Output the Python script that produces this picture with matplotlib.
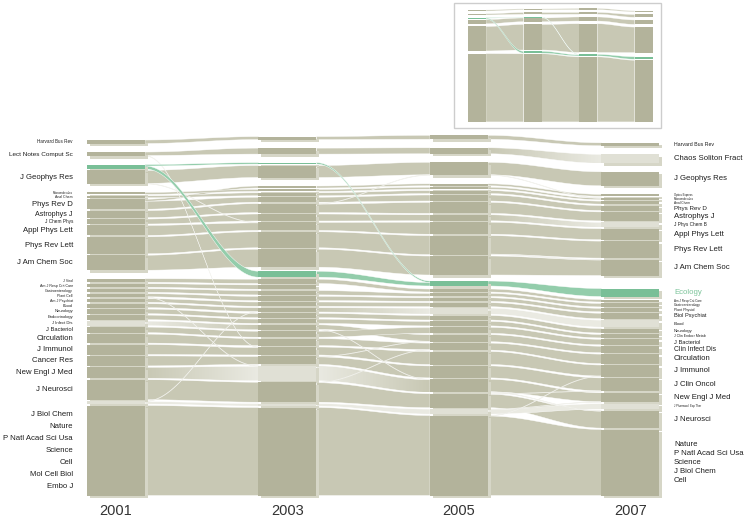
import numpy as np
import matplotlib
matplotlib.use('Agg')
import matplotlib.pyplot as plt
from matplotlib.patches import Rectangle, Polygon
from matplotlib.colors import to_rgb

plt.rcParams['font.family'] = ['Liberation Sans', 'DejaVu Sans']

years = [2001, 2003, 2005, 2007]

# modules of each year, top to bottom: (key, label, size, cluster, style)
modules_2001 = [
    ('hbr', 'Harvard Bus Rev', 3.5, 'hbr', 'base'),
    ('lncs', 'Lect Notes Comput Sc', 4, 'lncs', 'base'),
    ('eco', '', 4.5, 'jgr', 'green'),
    ('jgr', 'J Geophys Res', 13.5, 'jgr', 'base'),
    ('macro', 'Macromolecules', 2, 'phys', 'base'),
    ('anal', 'Anal Chem', 2, 'phys', 'base'),
    ('prd', 'Phys Rev D', 10, 'phys', 'base'),
    ('apj', 'Astrophys J', 7, 'phys', 'base'),
    ('jcp', 'J Chem Phys', 5, 'phys', 'base'),
    ('apl', 'Appl Phys Lett', 10, 'phys', 'base'),
    ('prl', 'Phys Rev Lett', 17, 'phys', 'base'),
    ('jacs', 'J Am Chem Soc', 15, 'phys', 'base'),
    ('jvirol', 'J Virol', 3.6, 'bio', 'base'),
    ('ajrccm', 'Am J Resp Crit Care', 3.6, 'bio', 'base'),
    ('gastro', 'Gastroenterology', 3.6, 'bio', 'base'),
    ('plantcell', 'Plant Cell', 3.6, 'bio', 'base'),
    ('ajpsy', 'Am J Psychiat', 3.6, 'bio', 'base'),
    ('blood', 'Blood', 4, 'bio', 'base'),
    ('neuro', 'Neurology', 4.6, 'bio', 'base'),
    ('endo', 'Endocrinology', 4.6, 'bio', 'base'),
    ('jid', 'J Infect Dis', 4.6, 'bio', 'light'),
    ('jbact', 'J Bacteriol', 5.6, 'bio', 'base'),
    ('circ', 'Circulation', 9, 'bio', 'base'),
    ('jimm', 'J Immunol', 10, 'bio', 'base'),
    ('canres', 'Cancer Res', 10, 'bio', 'base'),
    ('nejm', 'New Engl J Med', 11, 'bio', 'base'),
    ('jneuro', 'J Neurosci', 20, 'bio', 'base'),
    ('misc', '', 3, 'bio', 'light'),
    ('molbio', 'J Biol Chem\nNature\nP Natl Acad Sci Usa\nScience\nCell\nMol Cell Biol\nEmbo J', 90, 'bio', 'base'),
]

modules_2003 = [
    ('hbr', '', 3, 'hbr', 'base'),
    ('lncs', '', 6, 'lncs', 'base'),
    ('ecojgr', '', 1.5, 'jgr', 'green'),
    ('jgr', '', 12, 'jgr', 'base'),
    ('optex', '', 2, 'phys', 'base'),
    ('macro', '', 2, 'phys', 'base'),
    ('anal', '', 3, 'phys', 'base'),
    ('prd', '', 5, 'phys', 'base'),
    ('apj', '', 9, 'phys', 'base'),
    ('jcp', '', 7, 'phys', 'base'),
    ('apl', '', 8, 'phys', 'base'),
    ('prl', '', 16, 'phys', 'base'),
    ('jacs', '', 18, 'phys', 'base'),
    ('eco', '', 6, 'eco', 'green'),
    ('jvirol', '', 4.3, 'bio', 'base'),
    ('ajrccm', '', 4.3, 'bio', 'base'),
    ('gastro', '', 4.3, 'bio', 'base'),
    ('plantcell', '', 4.3, 'bio', 'base'),
    ('ajpsy', '', 4.3, 'bio', 'base'),
    ('blood', '', 4.3, 'bio', 'base'),
    ('neuro', '', 4.3, 'bio', 'base'),
    ('endo', '', 4.3, 'bio', 'base'),
    ('jid', '', 5, 'bio', 'base'),
    ('jbact', '', 6, 'bio', 'base'),
    ('circ', '', 7, 'bio', 'base'),
    ('jimm', '', 8, 'bio', 'base'),
    ('canres', '', 8, 'bio', 'base'),
    ('nejm', '', 15, 'bio', 'light'),
    ('jneuro', '', 20, 'bio', 'base'),
    ('misc', '', 2.5, 'bio', 'light'),
    ('molbio', '', 88, 'bio', 'base'),
]

modules_2005 = [
    ('hbr', '', 4, 'hbr', 'base'),
    ('lncs', '', 6, 'lncs', 'base'),
    ('jgr', '', 13, 'jgr', 'base'),
    ('optex', '', 2, 'phys', 'base'),
    ('macro', '', 2, 'phys', 'base'),
    ('anal', '', 3, 'phys', 'base'),
    ('prd', '', 6, 'phys', 'base'),
    ('apj', '', 11, 'phys', 'base'),
    ('jcp', '', 6, 'phys', 'base'),
    ('apl', '', 12, 'phys', 'base'),
    ('prl', '', 19, 'phys', 'base'),
    ('jacs', '', 19, 'phys', 'base'),
    ('eco', '', 5, 'eco', 'green'),
    ('ajrccm', '', 3, 'bio', 'base'),
    ('gastro', '', 3, 'bio', 'base'),
    ('plantcell', '', 3.5, 'bio', 'base'),
    ('ajpsy', '', 4, 'bio', 'base'),
    ('blood', '', 6, 'bio', 'light'),
    ('neuro', '', 4.5, 'bio', 'base'),
    ('endo', '', 4.5, 'bio', 'base'),
    ('jbact', '', 6, 'bio', 'base'),
    ('jid', '', 7, 'bio', 'base'),
    ('circ', '', 7, 'bio', 'base'),
    ('jimm', '', 13, 'bio', 'base'),
    ('canres', '', 12, 'bio', 'base'),
    ('nejm', '', 13, 'bio', 'base'),
    ('jneuro', '', 14, 'bio', 'base'),
    ('misc', '', 5, 'bio', 'light'),
    ('molbio', '', 80, 'bio', 'base'),
]

modules_2007 = [
    ('hbr', 'Harvard Bus Rev', 3, 'hbr', 'base'),
    ('lncs', 'Chaos Soliton Fract', 9, 'lncs', 'light'),
    ('jgr', 'J Geophys Res', 14, 'jgr', 'base'),
    ('optex', 'Optics Express', 2, 'phys', 'base'),
    ('macro', 'Macromolecules', 2, 'phys', 'base'),
    ('anal', 'Anal Chem', 3, 'phys', 'base'),
    ('prd', 'Phys Rev D', 5, 'phys', 'base'),
    ('apj', 'Astrophys J', 9, 'phys', 'base'),
    ('jcp', 'J Phys Chem B', 5, 'phys', 'light'),
    ('apl', 'Appl Phys Lett', 11, 'phys', 'base'),
    ('prl', 'Phys Rev Lett', 17, 'phys', 'base'),
    ('jacs', 'J Am Chem Soc', 16, 'phys', 'base'),
    ('eco', 'Ecology', 8, 'eco', 'green'),
    ('ajrccm', 'Am J Resp Crit Care', 2.5, 'bio', 'base'),
    ('gastro', 'Gastroenterology', 3.5, 'bio', 'base'),
    ('plantcell', 'Plant Physiol', 3.5, 'bio', 'base'),
    ('ajpsy', 'Biol Psychiat', 5.5, 'bio', 'base'),
    ('blood', 'Blood', 7, 'bio', 'light'),
    ('neuro', 'Neurology', 4.5, 'bio', 'base'),
    ('endo', 'J Clin Endocr Metab', 3.5, 'bio', 'base'),
    ('jbact', 'J Bacteriol', 5.5, 'bio', 'base'),
    ('jid', 'Clin Infect Dis', 6.5, 'bio', 'base'),
    ('circ', 'Circulation', 9.5, 'bio', 'base'),
    ('jimm', 'J Immunol', 11.5, 'bio', 'base'),
    ('canres', 'J Clin Oncol', 13.5, 'bio', 'base'),
    ('nejm', 'New Engl J Med', 9.5, 'bio', 'base'),
    ('misc', 'J Pharmacol Exp Ther', 5.5, 'bio', 'light'),
    ('jneuro', 'J Neurosci', 17.5, 'bio', 'base'),
    ('molbio', 'Nature\nP Natl Acad Sci Usa\nScience\nJ Biol Chem\nCell', 66, 'bio', 'base'),
]

modules = [modules_2001, modules_2003, modules_2005, modules_2007]

# flows that leave their module: (from, to, value, kind); the rest stays put
moves_01_03 = [
    ('eco', 'ecojgr', 1.5, 'main'),
    ('prd', 'optex', 2, 'main'),
    ('lncs', 'jimm', 0.5, 'cross'),
    ('jgr', 'apl', 0.5, 'cross'),
    ('plantcell', 'nejm', 0.5, 'cross'),
    ('misc', 'blood', 0.5, 'cross'),
]
moves_03_05 = [
    ('ecojgr', 'eco', 1.5, 'main'),
    ('jvirol', 'ajrccm', 4.3, 'main'),
    ('apj', 'jgr', 0.5, 'cross'),
    ('jid', 'nejm', 0.5, 'cross'),
    ('canres', 'jid', 0.5, 'cross'),
    ('jneuro', 'circ', 0.5, 'cross'),
]
moves_05_07 = [
    ('jgr', 'macro', 0.5, 'cross'),
    ('prl', 'jacs', 0.5, 'cross'),
    ('jneuro', 'canres', 0.5, 'cross'),
    ('misc', 'nejm', 0.5, 'cross'),
    ('nejm', 'jneuro', 0.5, 'cross'),
    ('molbio', 'jimm', 0.5, 'cross'),
]
moves = [moves_01_03, moves_03_05, moves_05_07]

# layout (pixels of the 748x521 canvas)
BOTTOM_Y = 495.5
GAP_IN, GAP_OUT = 1.4, 8.5
ECO_GAP_ABOVE = [0, 4, 6, 13]
ECO_GAP_BELOW = [0, 2, 3, 3]
COL_W = 58
SHADOW_DX, SHADOW_DY = 3, 2.5

BLOCK_COL = {'base': '#b3b39b', 'light': '#e0e0d5', 'green': '#79bf97'}
STREAM_COL = {'base': '#c8c8b4', 'light': '#eaeae2', 'green': '#93cdab'}
SHADOW_COL = '#d6d6c7'
CROSS_COL = '#e0e0d6'
TEXT_COL = '#1e1e1e'

LABEL_FS_OVERRIDE = {
    ('left', 'Harvard Bus Rev'): 3.3,
    ('left', 'Lect Notes Comput Sc'): 4.6,
    ('left', 'Anal Chem'): 2.5,
    ('right', 'Harvard Bus Rev'): 3.8,
    ('right', 'Phys Rev D'): 4.5,
    ('right', 'Blood'): 3.0,
    ('right', 'J Pharmacol Exp Ther'): 2.0,
}


def col_left(year):
    return 87 + (year - years[0]) * 85.75


def inset_left(year):
    return 468 + (year - years[0]) * 27.8


def stack(mods, i):
    # stack modules from the bottom up
    pos = {}
    y = BOTTOM_Y
    for j in range(len(mods) - 1, -1, -1):
        key, _, size, cluster, _ = mods[j]
        pos[key] = (y - size, y)
        y -= size
        if j > 0:
            above = mods[j - 1][3]
            if above == cluster:
                gap = GAP_IN
            elif cluster == 'eco':
                gap = ECO_GAP_ABOVE[i]
            elif above == 'eco':
                gap = ECO_GAP_BELOW[i]
            else:
                gap = GAP_OUT
            y -= gap
    return pos


def build_flows(ma, mb, extra):
    size_a = {m[0]: m[2] for m in ma}
    size_b = {m[0]: m[2] for m in mb}
    out_v, in_v = {}, {}
    flows = []
    for s, d, v, kind in extra:
        flows.append(dict(src=s, dst=d, wl=v, wr=v, kind=kind))
        out_v[s] = out_v.get(s, 0) + v
        in_v[d] = in_v.get(d, 0) + v
    for k in size_a:
        if k in size_b:
            wl = size_a[k] - out_v.get(k, 0)
            wr = size_b[k] - in_v.get(k, 0)
            if wl > 0 and wr > 0:
                flows.append(dict(src=k, dst=k, wl=wl, wr=wr, kind='main'))
    return flows


def allocate(flows, pos_a, pos_b):
    mid = lambda p: (p[0] + p[1]) / 2
    for end, other, w, ps, po in (('src', 'dst', 'wl', pos_a, pos_b),
                                  ('dst', 'src', 'wr', pos_b, pos_a)):
        for k in {f[end] for f in flows}:
            grp = sorted([f for f in flows if f[end] == k], key=lambda f: mid(po[f[other]]))
            y0, y1 = ps[k]
            sc = (y1 - y0) / sum(f[w] for f in grp)
            for f in grp:
                f[end + '_y'] = (y0, y0 + f[w] * sc)
                y0 += f[w] * sc


def band(xa, xb, a, b, n=48):
    t = np.linspace(0, 1, n)
    s = (1 - np.cos(np.pi * t)) / 2
    x = xa + (xb - xa) * t
    top = a[0] + (b[0] - a[0]) * s
    bot = a[1] + (b[1] - a[1]) * s
    return np.vstack([np.column_stack([x, top]), np.column_stack([x[::-1], bot[::-1]])])


def draw_band(ax, verts, c0, c1, z, edge, lw):
    if c0 == c1:
        ax.add_patch(Polygon(verts, closed=True, fc=c0, ec=edge, lw=lw, zorder=z))
        return
    poly = Polygon(verts, closed=True, fc='none', ec=edge, lw=lw, zorder=z + 0.05)
    ax.add_patch(poly)
    t = np.linspace(0, 1, 64)[:, None]
    cols = (1 - t) * np.array(to_rgb(c0)) + t * np.array(to_rgb(c1))
    im = ax.imshow(cols[None], extent=(verts[:, 0].min(), verts[:, 0].max(),
                                       verts[:, 1].max(), verts[:, 1].min()),
                   aspect='auto', interpolation='bilinear', zorder=z)
    im.set_clip_path(poly)


def draw_streams(ax, flows, xa, xb, style_a, style_b, lw):
    def zkey(f):
        if f['kind'] == 'cross':
            return 2
        if style_a[f['src']] == 'green' or style_b[f['dst']] == 'green':
            return 2.5
        return 1 if (style_a[f['src']] == 'base' and style_b[f['dst']] == 'base') else 1.5
    for f in sorted(flows, key=zkey):
        verts = band(xa, xb, f['src_y'], f['dst_y'])
        z = zkey(f)
        if f['kind'] == 'cross':
            draw_band(ax, verts, CROSS_COL, CROSS_COL, z, '#f5f5f1', 0.25)
        else:
            draw_band(ax, verts, STREAM_COL[style_a[f['src']]], STREAM_COL[style_b[f['dst']]],
                      z, 'white', lw)


def label_fs(size, side, text):
    if (side, text) in LABEL_FS_OVERRIDE:
        return LABEL_FS_OVERRIDE[(side, text)]
    return float(np.interp(size, [2, 4.6, 6, 8], [2.0, 3.0, 4.6, 5.6]))


fig = plt.figure(figsize=(7.48, 5.21), dpi=100)
ax = fig.add_axes([0, 0, 1, 1])

# main diagram
positions = [stack(m, i) for i, m in enumerate(modules)]
styles = [{m[0]: m[4] for m in mods} for mods in modules]
all_flows = []
for i in range(len(years) - 1):
    flows = build_flows(modules[i], modules[i + 1], moves[i])
    allocate(flows, positions[i], positions[i + 1])
    all_flows.append(flows)
    draw_streams(ax, flows, col_left(years[i]) + COL_W, col_left(years[i + 1]),
                 styles[i], styles[i + 1], 0.3)

for i, year in enumerate(years):
    x = col_left(year)
    for key, _, _, _, style in modules[i]:
        y0, y1 = positions[i][key]
        ax.add_patch(Rectangle((x + SHADOW_DX, y0 + SHADOW_DY), COL_W, y1 - y0,
                               fc=SHADOW_COL, ec='none', zorder=3))
        ax.add_patch(Rectangle((x, y0), COL_W, y1 - y0, fc=BLOCK_COL[style],
                               ec='none', zorder=4))
    ax.text(x + COL_W / 2, 511, str(year), ha='center', va='center',
            fontsize=10.5, color='#333333')

# journal labels on both sides
for i, side in ((0, 'left'), (len(years) - 1, 'right')):
    for key, label, size, _, style in modules[i]:
        if not label:
            continue
        y0, y1 = positions[i][key]
        names = label.split('\n')
        step = 12 if side == 'left' else 9
        for j, name in enumerate(names):
            yc = (y0 + y1) / 2 + (j - (len(names) - 1) / 2) * step
            fs = 5.6 if len(names) > 1 else label_fs(size, side, name)
            colour = '#7cc49a' if style == 'green' else TEXT_COL
            if side == 'left':
                ax.text(73, yc, name, ha='right', va='center', fontsize=fs, color=colour, zorder=5)
            else:
                ax.text(674, yc, name, ha='left', va='center', fontsize=fs, color=colour, zorder=5)

# overview inset: same map with clusters merged
INSET_Y0, INSET_SCALE, INSET_W = 9, 0.315, 18
ax.add_patch(Rectangle((454.5, 2.5), 207, 125, fc='white', ec='#cdcdcd', lw=1.0, zorder=0.5))


def inset_group(m):
    return m[0] if m[0] in ('eco', 'ecojgr') else m[3]


ipos, istyle, igroup = [], [], []
for i, mods in enumerate(modules):
    p, st, gk = {}, {}, {}
    for m in mods:
        g = inset_group(m)
        gk[m[0]] = g
        y0, y1 = positions[i][m[0]]
        y0 = INSET_Y0 + (y0 - 137) * INSET_SCALE
        y1 = INSET_Y0 + (y1 - 137) * INSET_SCALE
        if g in p:
            p[g] = (min(p[g][0], y0), max(p[g][1], y1))
        else:
            p[g] = (y0, y1)
        st[g] = 'green' if g in ('eco', 'ecojgr') else 'base'
    ipos.append(p)
    istyle.append(st)
    igroup.append(gk)

for i in range(len(years) - 1):
    agg = {}
    for f in all_flows[i]:
        if f['kind'] == 'cross':
            continue
        k = (igroup[i][f['src']], igroup[i + 1][f['dst']])
        if k not in agg:
            agg[k] = dict(src=k[0], dst=k[1], wl=0.0, wr=0.0, kind='main')
        agg[k]['wl'] += f['wl']
        agg[k]['wr'] += f['wr']
    iflows = list(agg.values())
    allocate(iflows, ipos[i], ipos[i + 1])
    draw_streams(ax, iflows, inset_left(years[i]) + INSET_W, inset_left(years[i + 1]),
                 istyle[i], istyle[i + 1], 0.25)

for i, year in enumerate(years):
    for g, (y0, y1) in ipos[i].items():
        ax.add_patch(Rectangle((inset_left(year), y0), INSET_W, y1 - y0,
                               fc=BLOCK_COL[istyle[i][g]], ec='none', zorder=4))

ax.set_xlim(0, 748)
ax.set_ylim(521, 0)
ax.set_aspect('auto')
ax.axis('off')

fig.savefig('out.png', dpi=100, facecolor='white')
